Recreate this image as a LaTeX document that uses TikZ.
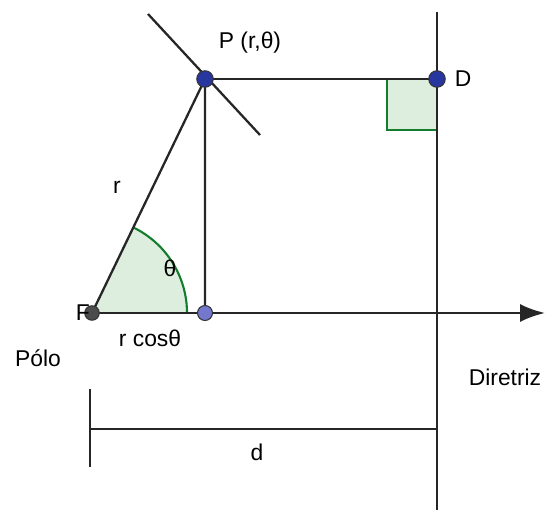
\documentclass[tikz,border=0pt]{standalone}
\usepackage{fontspec}
\setmainfont{Liberation Sans}
\usetikzlibrary{arrows.meta}
\definecolor{ptblue}{RGB}{40,55,160}
\definecolor{ftblue}{RGB}{115,120,205}
\definecolor{angreen}{RGB}{20,125,45}
\definecolor{angfill}{RGB}{222,238,222}
\tikzset{
  line/.style={line width=1.3pt,black!85},
  dot/.style={circle,draw=black!80,line width=0.6pt,inner sep=0pt,minimum size=3.3mm},
  lbl/.style={font=\fontsize{13}{15}\selectfont,inner sep=1pt}
}
\begin{document}
\begin{tikzpicture}
  \useasboundingbox (0,0) rectangle (10.9,10.3);
  \coordinate (F) at (1.84,4.04);
  \coordinate (Q) at (4.10,4.04);
  \coordinate (P) at (4.10,8.72);
  \coordinate (D) at (8.74,8.72);
  % angle and right angle marks
  \fill[angfill] (F) -- ++(0:1.9) arc (0:64.2:1.9) -- cycle;
  \draw[angreen,line width=1.2pt] (F) ++(0:1.9) arc (0:64.2:1.9);
  \draw[angreen,fill=angfill,line width=1.2pt] (D) rectangle (7.74,7.70);
  % directrix and polar axis
  \draw[line] (8.74,10.06) coordinate (dtop) -- (8.74,0.1) coordinate (dbot);
  \draw[line,-{Latex[length=5mm,width=3.6mm]}] (F) -- (10.9,4.04) coordinate (axis);
  % triangle and tangent
  \draw[line] (F) -- (P) -- (Q);
  \draw[line] (P) -- (D);
  \draw[line] (2.96,10.02) coordinate (t1) -- (5.20,7.60) coordinate (t2);
  % distance d
  \draw[line] (1.80,2.52) coordinate (k1) -- (1.80,0.96) coordinate (k2);
  \draw[line] (1.80,1.72) coordinate (m1) -- (8.74,1.72) coordinate (m2);
  % points
  \node[dot,fill=black!70,minimum size=2.9mm] (nF) at (F) {};
  \node[dot,fill=ftblue,minimum size=3mm] (nQ) at (Q) {};
  \node[dot,fill=ptblue] (nP) at (P) {};
  \node[dot,fill=ptblue] (nD) at (D) {};
  % labels
  \node[lbl] (lP) at (5.0,9.44) {P (r,θ)};
  \node[lbl,right=4pt] (lD) at (nD.east) {D};
  \node[lbl,left] (lF) at (nF.center) {F};
  \node[lbl] (lr) at (2.34,6.56) {r};
  \node[lbl] (lth) at (3.4,4.94) {θ};
  \node[lbl] (lrc) at (3.0,3.54) {r cosθ};
  \node[lbl] (lpolo) at (0.76,3.14) {Pólo};
  \node[lbl] (ldir) at (10.1,2.76) {Diretriz};
  \node[lbl] (ld) at (5.14,1.26) {d};
\end{tikzpicture}
\end{document}
